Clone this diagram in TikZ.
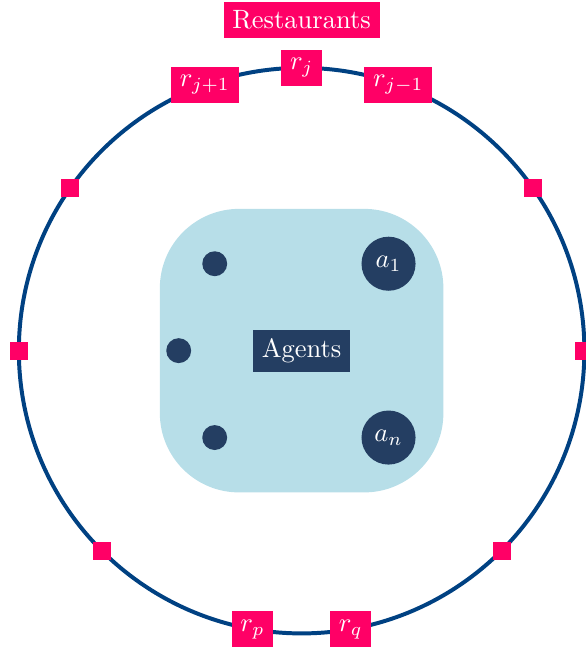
\documentclass[tikz,border=0pt]{standalone}
\definecolor{restpink}{RGB}{255,0,102}
\definecolor{ringblue}{RGB}{0,65,130}
\definecolor{agentnavy}{RGB}{36,62,98}
\definecolor{poolblue}{RGB}{183,222,232}
\usetikzlibrary{positioning}

\tikzset{
  rest/.style={fill=restpink,text=white},
  spot/.style={fill=restpink,minimum size=6.8pt,inner sep=0pt},
  dot/.style={circle,fill=agentnavy,minimum size=9.4pt,inner sep=0pt},
  bigdot/.style={circle,fill=agentnavy,text=white,minimum size=20.4pt,inner sep=0pt}
}

\begin{document}
\begin{tikzpicture}
	\useasboundingbox (-4.0,-3.97) rectangle (3.77,4.65);
	\draw[line width=1.5pt,ringblue] (0,0) circle [radius=3.75];
	% restaurants on the ring
	\node[rest] (rj) at (90:3.75) {$r_j$};
	\node[rest] (rjp) at (110:3.75) {$r_{j+1}$};
	\node[rest] (rjm) at (70:3.75) {$r_{j-1}$};
	\node[rest] (rp) at (260:3.75) {$r_p$};
	\node[rest] (rq) at (280:3.75) {$r_q$};
	\node[rest,above=4pt of rj] (rest) {Restaurants};
	\foreach \a in {0,35,145,180,225,315}
		\node[spot] (s\a) at (\a:3.75) {};
	% agents
	\node[fill=poolblue,rounded corners=1.05cm,minimum size=3.76cm] (pool) at (0,0) {};
	\node[fill=agentnavy,text=white] (agents) at (0,0) {Agents};
	\node[bigdot] (a1) at (45:1.63) {$a_1$};
	\node[bigdot] (an) at (-45:1.63) {$a_n$};
	\node[dot] (d1) at (135:1.63) {};
	\node[dot] (d2) at (180:1.63) {};
	\node[dot] (d3) at (225:1.63) {};
\end{tikzpicture}
\end{document}
